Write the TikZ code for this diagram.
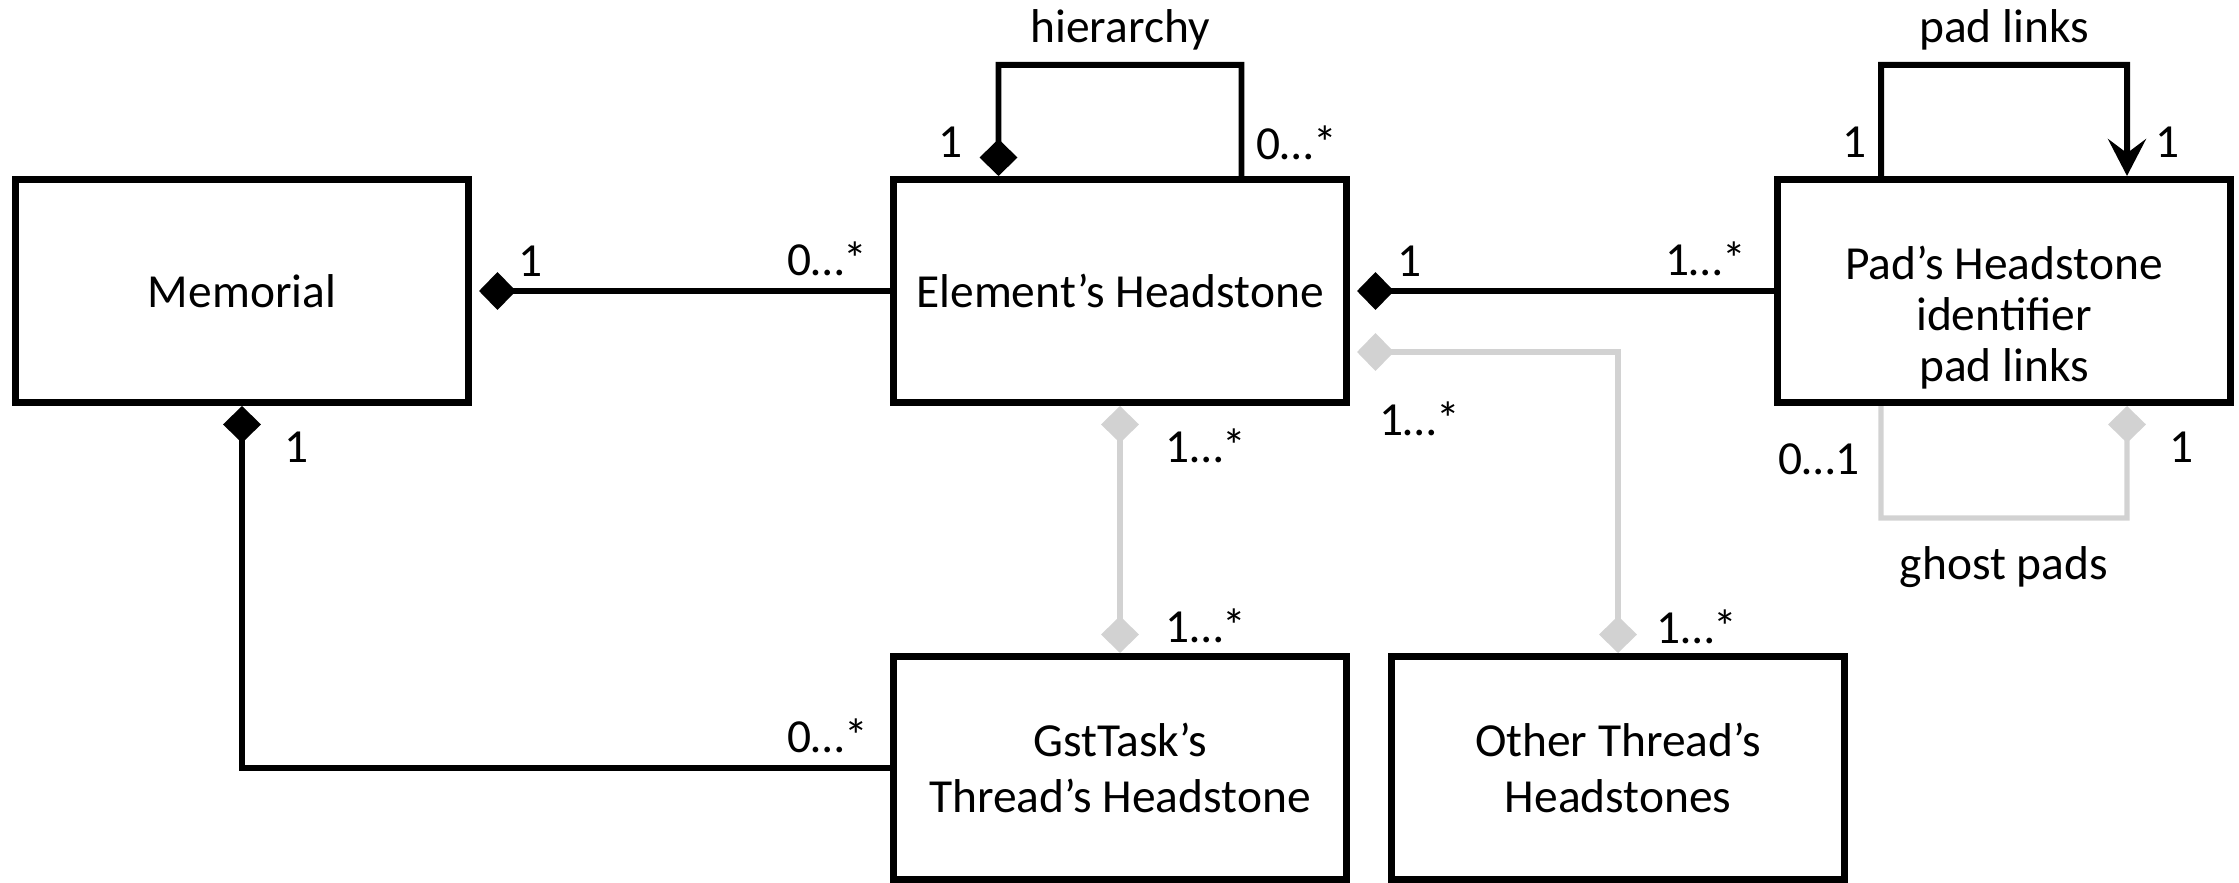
\documentclass[tikz,border=0pt]{standalone}
\usepackage{fontspec}
\setmainfont{Carlito}
\usetikzlibrary{arrows.meta}
\usetikzlibrary{positioning}
\definecolor{ghostgray}{RGB}{210,210,210}

\tikzset{
	box/.style={draw, line width=2pt, minimum width=4.53cm, minimum height=2.23cm, align=center},
	comp/.style={line width=1.7pt},
	ghost/.style={line width=1.5pt, draw=ghostgray},
	dia/.tip={Diamond[length=10.5pt,width=10.8pt]},
}

\begin{document}
\begin{tikzpicture}[font=\fontsize{13.5}{16}\selectfont]
\useasboundingbox (0,0) rectangle (22.39,8.83);
%\node[box] (mem) at (0,0) {Memorial};
\node[box] (mem) at (2.42,5.92) {Memorial};
\node[box] (elem) at (11.2,5.92) {Element’s Headstone};
\node[box, font=\fontsize{13.5}{14.5}\selectfont] (pad) at (20.04,5.92) {\strut\\Pad’s Headstone\\identifier\\pad links};
\node[box] (gst) at (11.2,1.15) {GstTask’s\\Thread’s Headstone};
\node[box] (other) at (16.18,1.15) {Other Thread’s\\Headstones};

\draw[comp, {dia}-, shorten <=2pt] (mem.east) -- (elem.west)
	node[pos=0.14, above] {1}
	node[pos=0.85, above] {0…*};
\draw[comp, {dia}-, shorten <=2pt] (elem.east) -- (pad.west)
	node[pos=0.14, above] {1}
	node[pos=0.84, above] {1…*};
\draw[comp, {dia}-] (mem.south) |- (gst.west)
	node[pos=0.057, right=8pt] {1}
	node[pos=0.952, above] {0…*};

% self links
\draw[comp, {dia}-] ([xshift=-1.215cm]elem.north) -- ++(0,1.11) node[pos=0.3, left=6pt] {1}
	-- ([xshift=1.215cm, yshift=1.11cm]elem.north) node[midway, above] {hierarchy}
	-- ([xshift=1.215cm]elem.north) node[pos=0.7, right=0pt] {0…*};
\draw[comp, -{Stealth[length=10.5pt, width=10.8pt, inset=4pt]}] ([xshift=-1.23cm]pad.north) -- ++(0,1.11) node[pos=0.3, left=0pt] {1}
	-- ([xshift=1.23cm, yshift=1.11cm]pad.north) node[midway, above] {pad links}
	-- ([xshift=1.23cm]pad.north) node[pos=0.7, right=4pt] {1};
\draw[ghost, {dia}-] ([xshift=1.23cm]pad.south) -- ++(0,-1.12) node[pos=0.37, right=8pt] {1}
	-- ([xshift=-1.23cm, yshift=-1.12cm]pad.south) node[midway, below=4pt] {ghost pads}
	-- ([xshift=-1.23cm]pad.south) node[pos=0.52, left=2pt] {0…1};

% threads
\draw[ghost, {dia}-{dia}] (elem.south) -- (gst.north)
	node[pos=0.16, right=9pt] {1…*}
	node[pos=0.89, right=9pt] {1…*};
\draw[ghost, {dia}-{dia}, shorten <=2pt] ([yshift=-0.61cm]elem.east) -| (other.north)
	node[pos=0.13, below=10pt] {1…*}
	node[pos=0.957, right=7pt] {1…*};
\end{tikzpicture}
\end{document}
